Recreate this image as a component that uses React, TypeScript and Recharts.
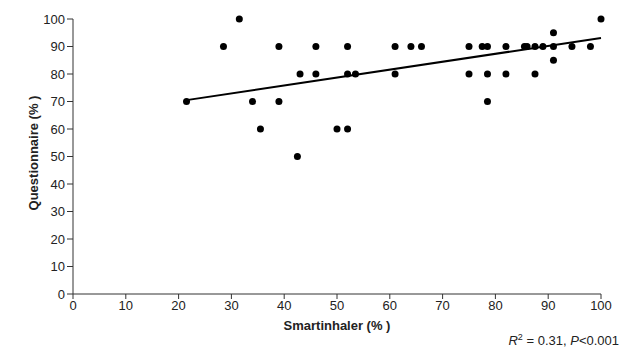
import { ScatterChart, Scatter, XAxis, YAxis } from "recharts"

const smartinhaler = [
  21.5, 28.5, 31.5, 34, 35.5, 39, 39, 42.5, 43, 46, 46, 50, 52, 52, 52, 53.5, 61, 61, 64, 66,
  75, 75, 77.5, 78.5, 78.5, 78.5, 82, 82, 85.5, 86, 87.5, 87.5, 89, 91, 91, 91, 94.5, 98, 100,
]
const questionnaire = [
  70, 90, 100, 70, 60, 90, 70, 50, 80, 90, 80, 60, 90, 80, 60, 80, 90, 80, 90, 90,
  90, 80, 90, 90, 80, 70, 90, 80, 90, 90, 90, 80, 90, 90, 95, 85, 90, 90, 100,
]

// fitted regression line end points
const trendX = [21.5, 100]
const trendY = [70.5, 93.1]

const xTicks = [0, 10, 20, 30, 40, 50, 60, 70, 80, 90, 100]
const yTicks = [0, 10, 20, 30, 40, 50, 60, 70, 80, 90, 100]

const points = smartinhaler.map((x, i) => ({ x, y: questionnaire[i] }))
const trend = trendX.map((x, i) => ({ x, y: trendY[i] }))

const font = "'Liberation Sans', Arial, sans-serif"

const Dot = (props: any) => <circle cx={props.cx} cy={props.cy} r={3.5} fill="#000" />

export default function App() {
  return (
    <div style={{ position: "absolute", left: 0, top: 0, width: 621, height: 350, background: "#fff", fontFamily: font }}>
      <ScatterChart width={621} height={350} margin={{ top: 19, right: 20, bottom: 26, left: 33 }}>
        <XAxis
          type="number"
          dataKey="x"
          domain={[0, 100]}
          ticks={xTicks}
          height={30}
          tickSize={5}
          stroke="#333"
          tick={{ fill: "#222", fontSize: 13, fontFamily: font }}
        />
        <YAxis
          type="number"
          dataKey="y"
          domain={[0, 100]}
          ticks={yTicks}
          width={40}
          tickSize={6}
          stroke="#333"
          tick={{ fill: "#222", fontSize: 13, fontFamily: font }}
        />
        <Scatter data={points} shape={<Dot />} isAnimationActive={false} />
        <Scatter
          data={trend}
          line={{ stroke: "#000", strokeWidth: 2 }}
          shape={() => null}
          isAnimationActive={false}
        />
      </ScatterChart>
      <div style={{ position: "absolute", left: 0, top: 153, width: 0, height: 0 }}>
        <div
          style={{
            position: "absolute",
            left: 33,
            top: 0,
            transform: "translate(-50%, -50%) rotate(-90deg)",
            whiteSpace: "nowrap",
            fontSize: 13,
            fontWeight: "bold",
            color: "#222",
          }}
        >
          Questionnaire (% )
        </div>
      </div>
      <div
        style={{
          position: "absolute",
          left: 337,
          top: 325,
          transform: "translate(-50%, -50%)",
          whiteSpace: "nowrap",
          fontSize: 13,
          fontWeight: "bold",
          color: "#222",
        }}
      >
        Smartinhaler (% )
      </div>
      <div
        style={{
          position: "absolute",
          right: 2,
          top: 332,
          whiteSpace: "nowrap",
          fontSize: 13,
          color: "#222",
        }}
      >
        <i>R</i>
        <sup style={{ fontSize: 9 }}>2</sup> = 0.31, <i>P</i>&lt;0.001
      </div>
    </div>
  )
}
